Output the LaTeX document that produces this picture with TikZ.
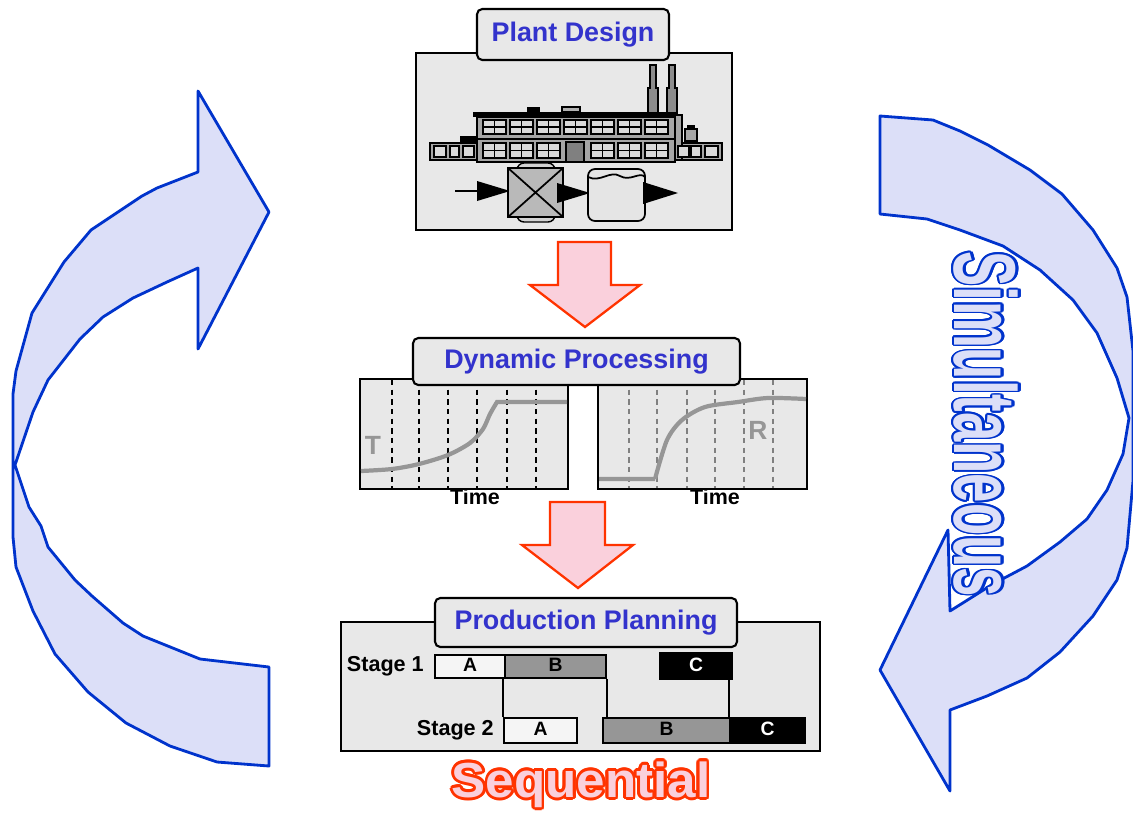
\documentclass[tikz,border=0pt]{standalone}
\usepackage{fontspec}
\setmainfont{Liberation Sans}
\usepackage{contour}
\usetikzlibrary{positioning}

\definecolor{panelgray}{RGB}{232,232,232}
\definecolor{titleblue}{RGB}{51,51,204}
\definecolor{loopfill}{RGB}{220,223,248}
\definecolor{loopline}{RGB}{0,51,204}
\definecolor{stepfill}{RGB}{250,208,220}
\definecolor{stepline}{RGB}{255,51,0}
\definecolor{trendgray}{RGB}{150,150,150}
\definecolor{bargray}{RGB}{150,150,150}

\tikzstyle{panel} = [rectangle, draw=black, line width=1.2pt, fill=panelgray, inner sep=0pt]
\tikzstyle{tab} = [rectangle, rounded corners=3pt, draw=black, line width=1.2pt, fill=panelgray, text=titleblue, font=\bfseries\fontsize{15.3}{18}\selectfont, inner sep=0pt]
\tikzstyle{cyclearrow} = [draw=loopline, fill=loopfill, line width=1.6pt, line join=round]
\tikzstyle{steparrow} = [draw=stepline, fill=stepfill, line width=1.3pt]
\tikzstyle{trend} = [trendgray, line width=2.4pt]
\tikzstyle{grid} = [line width=1pt, dash pattern=on 3pt off 2.5pt]
\tikzstyle{bar} = [rectangle, draw=black, line width=1pt, inner sep=0pt, font=\bfseries\fontsize{11}{12}\selectfont, text depth=2pt, anchor=center]
\tikzstyle{stage} = [font=\bfseries\fontsize{12.3}{14}\selectfont, inner sep=0pt]
\tikzstyle{axis} = [font=\bfseries\fontsize{12.2}{14}\selectfont, inner sep=0pt]

\begin{document}
\begin{tikzpicture}[x=0.02cm, y=-0.02cm]
\useasboundingbox (0,0) rectangle (1133,816);

% the two loop arrows
\draw[cyclearrow] (198,91) -- (269,212) -- (198,349) -- (198,268) -- (167,282) -- (133,298) -- (103,317) -- (80,339) -- (48,380) -- (33,412) -- (15,465) -- (22,486) -- (29,507) -- (41,526) -- (48,547) -- (75,580) -- (92,596) -- (123,623) -- (143,636) -- (200,659) -- (269,667) -- (269,766) -- (217,762) -- (170,746) -- (126,723) -- (88,692) -- (55,654) -- (33,611) -- (16,567) -- (13,537) -- (13,394) -- (16,371) -- (32,313) -- (64,262) -- (91,230) -- (142,196) -- (157,188) -- (198,172) -- cycle;
\draw[cyclearrow] (880,116) -- (933,120) -- (960,131) -- (988,145) -- (1030,170) -- (1062,194) -- (1093,230) -- (1117,268) -- (1127,297) -- (1133,351) -- (1133,481) -- (1127,548) -- (1117,580) -- (1093,616) -- (1060,652) -- (1027,678) -- (987,696) -- (950,710) -- (950,791) -- (880,670) -- (948,530) -- (950,611) -- (993,584) -- (1027,566) -- (1060,542) -- (1087,519) -- (1107,490) -- (1123,454) -- (1129,418) -- (1117,378) -- (1097,333) -- (1073,300) -- (1040,270) -- (1003,246) -- (960,230) -- (927,219) -- (880,214) -- cycle;

\contourlength{1.4pt}
\node (simul) [rotate=-90, xscale=0.6, font=\bfseries\fontsize{50}{52}\selectfont, inner sep=0pt] at (985,424) {\contour{loopline}{\textcolor{loopfill}{Simultaneous}}};

% plant design
\node (plant) [panel, minimum width=6.32cm, minimum height=3.54cm] at (574,141.5) {};
\node (plantTitle) [tab, minimum width=3.84cm, minimum height=1.02cm] at (573,34.5) {Plant Design};

% factory
\fill[black] (473,112) rectangle (677,117);
\fill[black] (527,107) rectangle (540,112);
\draw[line width=0.8pt, fill=gray!60] (562,107) rectangle (580,112);
\foreach \x in {648,667}
  \draw[line width=0.8pt, fill=gray!90] (\x+2,65) -- (\x+8,65) -- (\x+8,88) -- (\x+10,88) -- (\x+10,113) -- (\x,113) -- (\x,88) -- (\x+2,88) -- cycle;
\draw[line width=0.8pt, fill=gray!70] (477,117) rectangle (675,162);
\draw[line width=0.6pt] (477,139) -- (675,139);
\foreach \i in {0,...,6} {
  \draw[line width=0.8pt, fill=gray!30] (483+\i*27,120) rectangle ++(23,14);
  \draw[line width=0.6pt] (483+\i*27,127) -- ++(23,0);
  \draw[line width=0.6pt] (494.5+\i*27,120) -- ++(0,14);
}
\foreach \i in {0,1,2,4,5,6} {
  \draw[line width=0.8pt, fill=gray!30] (483+\i*27,143) rectangle ++(23,15);
  \draw[line width=0.6pt] (483+\i*27,150.5) -- ++(23,0);
  \draw[line width=0.6pt] (494.5+\i*27,143) -- ++(0,15);
}
\draw[line width=0.8pt, fill=gray] (566,142) rectangle (584,162);
\fill[black] (460,136) rectangle (477,143);
\draw[line width=0.8pt, fill=gray!70] (430,143) rectangle (477,160);
\draw[line width=0.8pt, fill=gray!70] (675,143) rectangle (722,160);
\draw[line width=0.8pt, fill=gray!70] (675,115) rectangle (682,160);
\draw[line width=0.8pt, fill=gray!70] (685,129) rectangle (697,141);
\fill[black] (687,125) rectangle (695,129);
\foreach \a/\b in {434/446, 450/459, 463/474, 678/689, 691/701, 705/718}
  \draw[line width=0.8pt, fill=gray!30] (\a,146) rectangle (\b,157);

% process line
\draw[line width=1pt] (455,191) -- (478,191);
\fill[black] (477,181) -- (510,191) -- (477,201) -- cycle;
\draw[line width=0.8pt, fill=gray!35, rounded corners=4pt] (517,163) rectangle (555,222);
\draw[line width=1pt, fill=gray!55] (508,168) rectangle (563,217);
\draw[line width=1pt] (508,168) -- (563,217) (508,217) -- (563,168);
\fill[black] (557,183) -- (590,193) -- (557,203) -- cycle;
\draw[line width=1pt, fill=gray!20, rounded corners=4pt] (588,169) rectangle (645,221);
\draw[line width=1pt] (588,177) .. controls (600,183) and (610,170) .. (620,176) .. controls (630,182) and (640,171) .. (645,177);
\fill[black] (643,182) -- (678,193) -- (643,204) -- cycle;

% down steps
\draw[steparrow] (558,242) -- (611,242) -- (611,285) -- (640,285) -- (585,327) -- (530,285) -- (558,285) -- cycle;
\draw[steparrow] (550,502) -- (605,502) -- (605,545) -- (633,545) -- (578,588) -- (522,545) -- (550,545) -- cycle;

% dynamic processing
\node (dynL) [panel, minimum width=4.16cm, minimum height=2.2cm] at (464,434) {};
\node (dynR) [panel, minimum width=4.18cm, minimum height=2.2cm] at (702.5,434) {};
\foreach \x in {392,419,448,477,507,536}
  \draw[grid, black] (\x,380) -- (\x,488);
\foreach \x in {629,657,687,715,744,773}
  \draw[grid, gray] (\x,380) -- (\x,488);
\draw[trend] plot[smooth] coordinates {(361,471) (392,469) (419,464) (448,455) (470,443) (483,429) (490,414) (497,402)} -- (567,402);
\draw[trend] (599,479) -- (655,479) plot[smooth] coordinates {(655,479) (667,440) (682,420) (705,407) (738,402) (768,398) (806,399)};
\node (tLabel) [text=trendgray, font=\bfseries\fontsize{15}{16}\selectfont] at (373,445) {T};
\node (rLabel) [text=trendgray, font=\bfseries\fontsize{15}{16}\selectfont] at (758,430) {R};
\node (timeL) [axis] at (475,497) {Time};
\node (timeR) [axis] at (715,497) {Time};
\node (dynTitle) [tab, minimum width=6.54cm, minimum height=0.94cm] at (576.5,361.5) {Dynamic Processing};

% production planning
\node (plan) [panel, minimum width=9.58cm, minimum height=2.58cm] at (580.5,686.5) {};
\node (planTitle) [tab, minimum width=6.04cm, minimum height=0.98cm] at (586,622.5) {Production Planning};
\node (a1) [bar, fill=gray!8, minimum width=1.4cm, minimum height=0.46cm] at (470,666.5) {A};
\node (b1) [bar, fill=bargray, minimum width=2.02cm, minimum height=0.46cm] at (555.5,666.5) {B};
\node (c1) [bar, fill=black, text=white, minimum width=1.44cm, minimum height=0.52cm] at (696,666) {C};
\node (a2) [bar, fill=gray!8, minimum width=1.46cm, minimum height=0.5cm] at (540.5,730.5) {A};
\node (b2) [bar, fill=bargray, minimum width=2.54cm, minimum height=0.5cm] at (666.5,730.5) {B};
\node (c2) [bar, fill=black, text=white, minimum width=1.5cm, minimum height=0.5cm] at (767.5,730.5) {C};
\draw[line width=1pt] (a2.north west) -- (a2.north west |- a1.south);
\draw[line width=1pt] (b1.south east) -- (b1.south east |- b2.north);
\draw[line width=1pt] (c2.north west) -- (c2.north west |- c1.south);
\node (s1) [stage, left=0.2cm of a1] {Stage 1};
\node (s2) [stage, left=0.18cm of a2] {Stage 2};

\contourlength{1.5pt}
\node (seq) [xscale=1.04, font=\bfseries\fontsize{28}{30}\selectfont, inner sep=0pt] at (581,786) {\contour{stepline}{\textcolor{stepfill}{Sequential}}};
\end{tikzpicture}
\end{document}
